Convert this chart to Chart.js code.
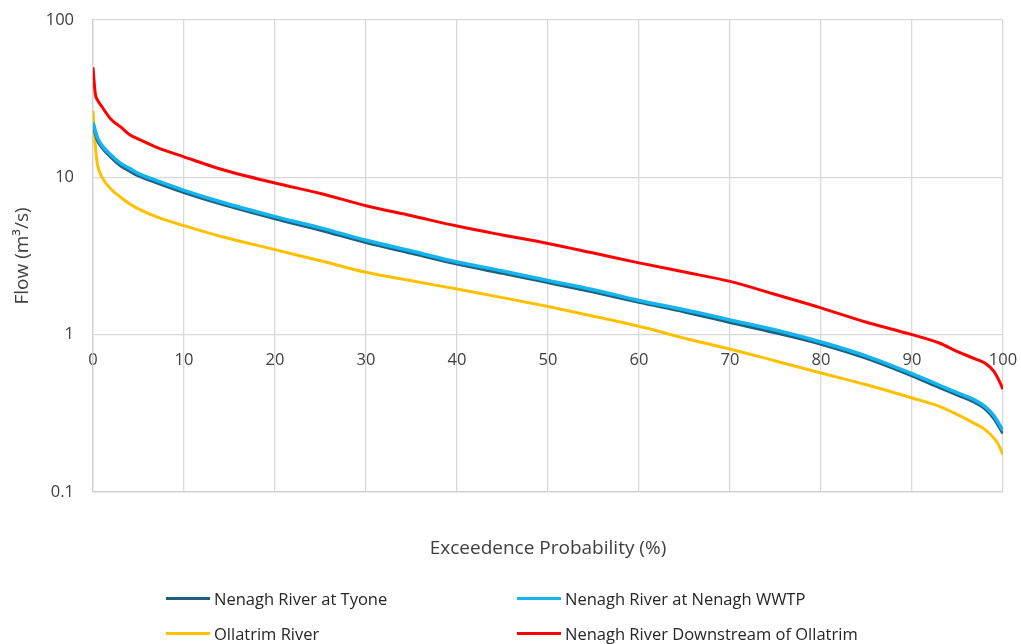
<!DOCTYPE html>
<html>
<head>
<meta charset="utf-8">
<script src="https://cdn.jsdelivr.net/npm/chart.js@4.4.1/dist/chart.umd.min.js"></script>
<style>
    body { margin: 0; background: #fff; font-family: "Open Sans", sans-serif; }
    #wrap { position: relative; width: 1021px; height: 644px; }
    #legend {
        position: absolute; left: 166px; top: 581px;
        display: grid; grid-template-columns: 351px auto; grid-auto-rows: 35px;
        font-size: 16.5px; color: #262626;
    }
    #legend .item { display: flex; align-items: center; }
    #legend .swatch { width: 44px; height: 3px; margin-right: 4px; }
</style>
</head>
<body>
<div id="wrap">
    <canvas id="chart-fdc"></canvas>
    <div id="legend"></div>
</div>
<script>
// exceedence probability (%)
const exceedence = [0, 0.25, 0.5, 1, 2, 3, 4, 5, 7, 10, 14, 20, 25, 30, 35, 40, 45, 50, 55, 60, 65, 70, 75, 80, 85, 90, 93, 95, 97, 98, 99, 99.5, 100];

// flow (m3/s)
const tyone = [21.7, 19.2, 17.2, 15.5, 13.4, 11.9, 11.0, 10.25, 9.26, 8.03, 6.8, 5.47, 4.63, 3.86, 3.3, 2.82, 2.46, 2.15, 1.87, 1.61, 1.4, 1.2, 1.03, 0.872, 0.709, 0.549, 0.463, 0.414, 0.369, 0.34, 0.295, 0.265, 0.236];
const wwtp = [22.3, 19.8, 17.8, 15.9, 13.8, 12.3, 11.4, 10.55, 9.54, 8.27, 7.0, 5.63, 4.77, 3.98, 3.4, 2.9, 2.54, 2.21, 1.93, 1.65, 1.44, 1.24, 1.07, 0.898, 0.731, 0.565, 0.477, 0.426, 0.381, 0.35, 0.305, 0.275, 0.245];
const ollatrim = [26.5, 16, 12, 10, 8.4, 7.5, 6.8, 6.3, 5.6, 4.93, 4.22, 3.47, 2.95, 2.49, 2.2, 1.95, 1.72, 1.51, 1.31, 1.13, 0.95, 0.811, 0.68, 0.571, 0.48, 0.396, 0.35, 0.31, 0.27, 0.25, 0.22, 0.2, 0.173];
const downstream = [50, 34, 31, 28, 23.3, 21, 18.7, 17.5, 15.5, 13.5, 11.3, 9.2, 7.9, 6.6, 5.7, 4.9, 4.3, 3.8, 3.3, 2.86, 2.5, 2.18, 1.8, 1.48, 1.2, 1.0, 0.885, 0.78, 0.7, 0.66, 0.585, 0.52, 0.45];

const seriesNames = ['Nenagh River at Tyone', 'Nenagh River at Nenagh WWTP', 'Ollatrim River', 'Nenagh River Downstream of Ollatrim'];
const seriesColors = ['#1f5f7e', '#14b4ef', '#ffc000', '#ff0000'];
const yTicks = [0.1, 1, 10, 100];

const textColor = '#404040';
const gridColor = '#d9d9d9';

function toPoints(values) {
    return exceedence.map((p, i) => ({ x: p, y: values[i] }))
}

var ctx = document.getElementById('chart-fdc')
var myChart = new Chart(ctx, {
    type: 'line',
    data: {
        datasets: [tyone, wwtp, ollatrim, downstream].map((values, i) => ({
            label: seriesNames[i],
            data: toPoints(values),
            borderColor: seriesColors[i],
            backgroundColor: seriesColors[i],
            borderWidth: i < 2 ? 3.5 : 3,
            pointRadius: 0,
            cubicInterpolationMode: 'monotone',
            order: i == 1 ? 0 : i + 1, // WWTP drawn over Tyone
        }))
    },
    options: {
        responsive: true,
        maintainAspectRatio: false,
        animation: false,
        layout: {
            padding: { left: 7, right: 18, top: 20, bottom: 80 }
        },
        plugins: {
            legend: { display: false },
            tooltip: { enabled: false },
        },
        scales: {
            x: {
                type: 'linear',
                min: 0,
                max: 100,
                ticks: { display: false, stepSize: 10 },
                grid: { color: gridColor, lineWidth: 1.3, drawTicks: false },
                border: { color: '#cfcfcf', width: 1.3 },
                title: {
                    display: true,
                    text: 'Exceedence Probability (%)',
                    color: textColor,
                    font: { family: 'Open Sans', size: 19 },
                },
                afterFit: function (scale) { scale.height = 72 },
            },
            // tick labels sit on the y = 1 line, as in the spreadsheet
            x2: {
                type: 'linear',
                position: { y: 1 },
                min: 0,
                max: 100,
                ticks: {
                    stepSize: 10,
                    padding: 16,
                    color: textColor,
                    font: { family: 'Open Sans', size: 16.5 },
                },
                grid: { display: false, drawTicks: false },
                border: { display: false },
                afterFit: function (scale) {
                    scale.paddingLeft = 0
                    scale.paddingRight = 0
                },
            },
            y: {
                type: 'logarithmic',
                min: 0.1,
                max: 100,
                afterBuildTicks: function (scale) {
                    scale.ticks = yTicks.map(v => ({ value: v }))
                },
                ticks: {
                    padding: 19,
                    color: textColor,
                    font: { family: 'Open Sans', size: 16.5 },
                    callback: v => String(v),
                },
                grid: { color: gridColor, lineWidth: 1.3, drawTicks: false },
                border: { color: '#cfcfcf', width: 1.3 },
                title: {
                    display: true,
                    text: 'Flow (m³/s)',
                    color: textColor,
                    font: { family: 'Open Sans', size: 19 },
                },
                afterFit: function (scale) {
                    scale.width = 86
                    scale.paddingTop = 0
                    scale.paddingBottom = 0
                },
            }
        }
    }
});

// two-column legend, row by row like the original
var legend = document.getElementById('legend')
myChart.data.datasets.forEach((ds, i) => {
    var item = document.createElement('div')
    item.className = 'item'
    var swatch = document.createElement('span')
    swatch.className = 'swatch'
    swatch.style.backgroundColor = ds.borderColor
    var label = document.createElement('span')
    label.textContent = ds.label
    item.appendChild(swatch)
    item.appendChild(label)
    legend.appendChild(item)
});
</script>
</body>
</html>
